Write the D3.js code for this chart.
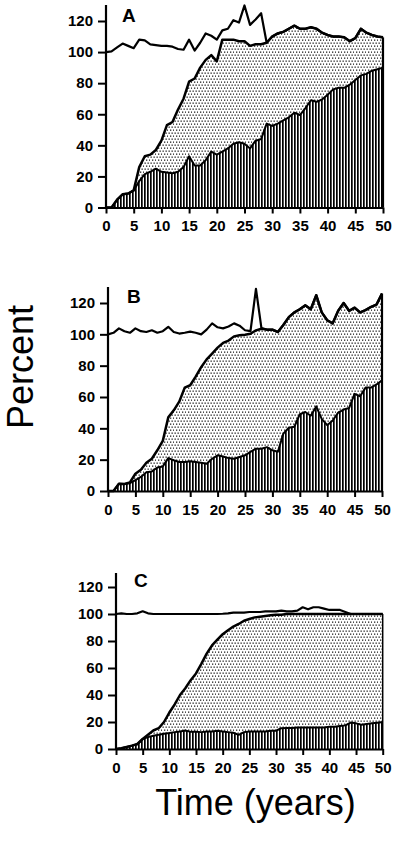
<!DOCTYPE html>
<html>
<head>
<meta charset="utf-8">
<script src="https://cdn.jsdelivr.net/npm/d3@7"></script>
<style>
  body { margin: 0; background: #fff; }
  svg { display: block; font-family: "Liberation Sans", Arial, sans-serif; }
</style>
</head>
<body>
<svg id="chart" width="393" height="845"></svg>
<script>
// years 0..50 and axis ticks
const years = d3.range(0, 51);
const yTicks = [0, 20, 40, 60, 80, 100, 120];
const xTicks = [0, 5, 10, 15, 20, 25, 30, 35, 40, 45, 50];

// Panel A
const totalA = [100, 100.5, 103, 105.5, 104, 102.5, 108, 107.5, 105, 104.5, 104, 104, 103.5, 102, 101.5,
  108, 101, 106, 112, 110.5, 108, 114, 115, 120.5, 119, 130, 117.5, 121, 125,
  106, 110, 112, 113, 115, 117, 115, 115, 116, 115, 112.5, 111, 110, 110, 109.5, 107, 109, 115, 112.5, 111, 110, 109.5];
const upperA = [0, 0, 5, 8.5, 9, 11, 26, 33, 34, 37, 43, 53, 55, 63, 70, 81, 83, 90, 95, 98, 94,
  108, 108, 108, 107, 107, 104, 105, 105, 106,
  110, 112, 113, 115, 117, 115, 115, 116, 115, 112.5, 111, 110, 110, 109.5, 107, 109, 115, 112.5, 111, 110, 109.5];
const lowerA = [0, 0, 5, 8.5, 9, 11, 17, 21.5, 23, 25, 23, 22.5, 22, 23, 26, 33, 27, 27, 30.5, 36, 34,
  36, 38, 41, 42, 41, 38, 43, 44, 54, 52.5, 54, 56, 58, 61, 59.5, 64, 69, 68, 69.5, 72.5,
  76, 77, 77, 79, 82, 85, 86, 88, 89, 90];

// Panel B
const totalB = [100, 101, 103.8, 102, 101, 103.8, 102, 101.5, 102.6, 101, 102, 104.8, 101.5, 100.5, 101,
  101.7, 101, 100, 103, 107, 104.5, 103.8, 105, 107, 105.5, 102.6, 102, 129, 104,
  103, 103, 101.5, 106, 111, 114, 116, 118.5, 116, 125, 114, 109, 107, 115, 120, 115, 117, 114, 115.5, 117.5, 119, 126];
const upperB = [0, 0, 4.7, 4.5, 5.5, 11, 13.6, 18, 20.6, 26, 32, 47, 51.5, 57, 66, 67.5, 73, 79, 84, 87.7,
  91.5, 94.5, 96, 98.7, 99.4, 99.8, 100.4, 102.5, 103.6,
  103, 103, 101.5, 106, 111, 114, 116, 118.5, 116, 125, 114, 109, 107, 115, 120, 115, 117, 114, 115.5, 117.5, 119, 126];
const lowerB = [0, 0, 4.7, 4.5, 5, 7, 9, 12, 12.5, 15, 15.7, 21, 19.6, 18.5, 18.5, 19, 18.5, 18, 17.4, 20.6,
  22.8, 22, 21, 20.6, 21.7, 22.8, 25, 27, 27, 28, 26, 25, 36.6, 40.4, 41, 49, 50.4, 48, 54, 46,
  42, 45, 50, 52, 53, 62, 60.5, 66, 66, 68, 70.6];

// Panel C
const totalC = [100, 100.5, 100, 100, 100.5, 102, 100.5, 100,
  100, 100, 100, 100, 100, 100, 100, 100, 100, 100, 100, 100,
  100.2, 100.5, 101, 101, 101, 101.5, 101.5, 101.5, 102, 102, 102, 102.5, 102, 102, 102.5,
  105, 103.5, 105, 105, 104, 103, 103, 103, 101.5,
  100, 100, 100, 100, 100, 100, 100];
const upperC = [0, 0.5, 1.5, 2.5, 3.7, 7.4, 10.5, 13.7, 15.4, 20, 27, 33, 40, 45, 51, 56, 63, 70.6, 76.7, 81,
  85, 88, 90.7, 92.6, 95, 96.3, 97.5, 98, 98.5, 99, 99.5, 99.5,
  100, 100, 100, 100, 100, 100, 100, 100, 100, 100, 100, 100, 100, 100, 100, 100, 100, 100, 100];
const lowerC = [0, 0.5, 1.5, 2.5, 3.5, 7.4, 8.8, 9.8, 10.5, 11.3, 11.8, 12.5, 13, 13.7, 12.7, 12.7, 12.5, 13, 13, 13.5,
  13, 12.5, 12, 10.5, 12.5, 13, 13, 13, 13, 13.5, 13.5, 15.4, 15.5, 15.5, 16, 16, 16, 16, 16, 16,
  16.5, 16.5, 17, 17.5, 19.6, 19, 18, 18.5, 19, 19.5, 20];

// layout of each panel (pixels)
const panels = [
  { label: 'A', total: totalA, upper: upperA, lower: lowerA, left: 106, right: 383, bottom: 207.5, top: 21, axisTop: 5, lx: 122, ly: 22 },
  { label: 'B', total: totalB, upper: upperB, lower: lowerB, left: 108, right: 382, bottom: 491, top: 303, axisTop: 287, lx: 127, ly: 303 },
  { label: 'C', total: totalC, upper: upperC, lower: lowerC, left: 116, right: 382.7, bottom: 749, top: 587, axisTop: 573, lx: 134, ly: 587 }
];

const svg = d3.select('#chart');
const defs = svg.append('defs');

// stipple pattern for the middle band
const dots = defs.append('pattern')
  .attr('id', 'dots')
  .attr('patternUnits', 'userSpaceOnUse')
  .attr('width', 6)
  .attr('height', 6);
dots.append('rect').attr('width', 6).attr('height', 6).attr('fill', '#fff');
[[0.5, 0.5], [3.5, 0.5], [2, 3.5], [5, 3.5]].forEach(([x, y]) => {
  dots.append('rect').attr('x', x).attr('y', y).attr('width', 1.3).attr('height', 1.3).attr('fill', '#222');
});

// vertical hatching for the bottom band
const stripes = defs.append('pattern')
  .attr('id', 'stripes')
  .attr('patternUnits', 'userSpaceOnUse')
  .attr('width', 3)
  .attr('height', 10);
stripes.append('rect').attr('width', 3).attr('height', 10).attr('fill', '#fff');
stripes.append('rect').attr('width', 1.7).attr('height', 10).attr('fill', '#000');

function drawPanel(p) {
  const x = d3.scaleLinear().domain([0, 50]).range([p.left, p.right]);
  const y = d3.scaleLinear().domain([0, 120]).range([p.bottom, p.top]);
  const g = svg.append('g');

  const rows = years.map((t, i) => ({ t, total: p.total[i], upper: p.upper[i], lower: p.lower[i] }));

  // stippled band between the two curves
  g.append('path')
    .datum(rows)
    .attr('fill', 'url(#dots)')
    .attr('d', d3.area().x(d => x(d.t)).y0(d => y(d.lower)).y1(d => y(d.upper)));

  // hatched band under the lower curve
  g.append('path')
    .datum(rows)
    .attr('fill', 'url(#stripes)')
    .attr('d', d3.area().x(d => x(d.t)).y0(y(0)).y1(d => y(d.lower)));

  // right edge at year 50
  const last = rows[rows.length - 1];
  g.append('line')
    .attr('x1', x(last.t)).attr('x2', x(last.t))
    .attr('y1', y(0)).attr('y2', y(last.upper))
    .attr('stroke', '#000')
    .attr('stroke-width', p.label === 'C' ? 1.5 : 2.2);

  const lineOf = key => d3.line().x(d => x(d.t)).y(d => y(d[key]));

  g.append('path').datum(rows)
    .attr('fill', 'none').attr('stroke', '#000').attr('stroke-width', 2)
    .attr('stroke-linejoin', 'round')
    .attr('d', lineOf('lower'));

  g.append('path').datum(rows)
    .attr('fill', 'none').attr('stroke', '#000').attr('stroke-width', 2.5)
    .attr('stroke-linejoin', 'round')
    .attr('d', lineOf('upper'));

  g.append('path').datum(rows)
    .attr('fill', 'none').attr('stroke', '#000').attr('stroke-width', 2.2)
    .attr('stroke-linejoin', 'round')
    .attr('d', lineOf('total'));

  // y axis
  const yAxis = g.append('g')
    .attr('transform', `translate(${p.left},0)`)
    .call(d3.axisLeft(y).tickValues(yTicks).tickSize(8).tickPadding(5).tickSizeOuter(0));
  yAxis.select('.domain').remove();
  yAxis.selectAll('.tick line').attr('stroke-width', 2);
  yAxis.append('line')
    .attr('y1', p.bottom).attr('y2', p.axisTop)
    .attr('stroke', '#000').attr('stroke-width', 2.2);

  // x axis
  const xAxis = g.append('g')
    .attr('transform', `translate(0,${p.bottom})`)
    .call(d3.axisBottom(x).tickValues(xTicks).tickSize(6).tickPadding(7).tickSizeOuter(0));
  xAxis.select('.domain').attr('stroke-width', 2.2);
  xAxis.selectAll('.tick line').attr('stroke-width', 2);

  g.selectAll('.tick text')
    .attr('font-family', '"Liberation Sans", Arial, sans-serif')
    .attr('font-size', 15)
    .attr('font-weight', 'bold')
    .attr('fill', '#000');

  // panel letter
  g.append('text')
    .attr('x', p.lx).attr('y', p.ly)
    .attr('font-size', 19)
    .attr('font-weight', 'bold')
    .text(p.label);
}

panels.forEach(drawPanel);

// shared axis titles
svg.append('text')
  .attr('transform', 'translate(33,367) rotate(-90)')
  .attr('text-anchor', 'middle')
  .attr('font-size', 36)
  .text('Percent');

svg.append('text')
  .attr('x', 255.5).attr('y', 815)
  .attr('text-anchor', 'middle')
  .attr('font-size', 36)
  .text('Time (years)');
</script>
</body>
</html>
